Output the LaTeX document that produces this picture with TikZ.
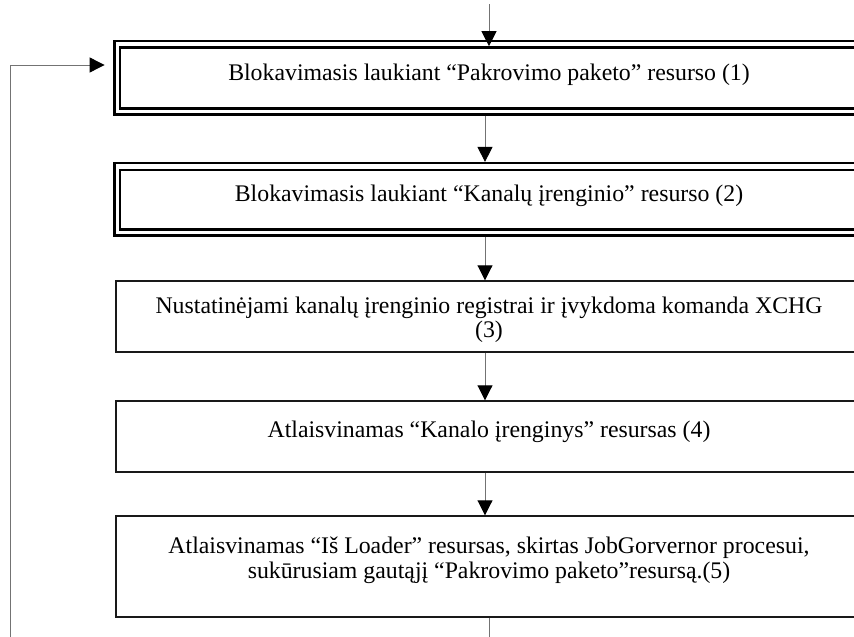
\documentclass[tikz,border=0pt]{standalone}
\usepackage{fontspec}
\setmainfont{Liberation Serif}
\usetikzlibrary{arrows.meta}
\begin{document}
\begin{tikzpicture}[x=1pt,y=-1pt,
  box/.style={draw=black!90, line width=1.4pt, inner sep=0pt, minimum width=746pt},
  outerframe/.style={draw=black, line width=2.2pt, inner sep=0pt, minimum width=749pt},
  innerframe/.style={draw=black, line width=2.6pt, inner sep=0pt, minimum width=738pt},
  txt/.style={anchor=base, inner sep=0pt, font=\fontsize{23.8}{27}\selectfont},
  conn/.style={draw=black!55, line width=0.9pt, -{Triangle[length=15pt,width=15pt,color=black]}},
  plain/.style={draw=black!55, line width=0.9pt}]
\useasboundingbox (0,0) rectangle (854,637);
\clip (0,0) rectangle (854,637);

% blocking steps, drawn with a double frame
\node[outerframe, minimum height=73.5pt] (b1o) at (489,77.75) {};
\node[innerframe, minimum height=61pt] (b1i) at (489,78) {};
\node[outerframe, minimum height=72.5pt] (b2o) at (489,199.25) {};
\node[innerframe, minimum height=59.5pt] (b2i) at (489,199.75) {};

% ordinary steps
\node[box, minimum height=71pt] (b3) at (489,316.5) {};
\node[box, minimum height=71pt] (b4) at (489,436.5) {};
\node[box, minimum height=101pt] (b5) at (489,566.5) {};

% step texts
\node[txt] (t1) at (489,80) {Blokavimasis laukiant “Pakrovimo paketo” resurso (1)};
\node[txt] (t2) at (489,201) {Blokavimasis laukiant “Kanalų įrenginio” resurso (2)};
\node[txt] (t3a) at (489,313) {Nustatinėjami kanalų įrenginio registrai ir įvykdoma komanda XCHG};
\node[txt] (t3b) at (489,337) {(3)};
\node[txt] (t4) at (489,437) {Atlaisvinamas “Kanalo įrenginys” resursas (4)};
\node[txt] (t5a) at (489,553) {Atlaisvinamas “Iš Loader” resursas, skirtas JobGorvernor procesui,};
\node[txt] (t5b) at (489,578) {sukūrusiam gautąjį “Pakrovimo paketo”resursą.(5)};

% flow between the steps
\coordinate (entry) at (489,4);
\draw[conn] (entry) -- (b1i.north);
\draw[conn] ([xshift=-4pt]b1o.south) -- ([xshift=-4pt]b2o.north);
\draw[conn] ([xshift=-4pt]b2o.south) -- ([xshift=-4pt]b3.north);
\draw[conn] ([xshift=-4pt]b3.south) -- ([xshift=-4pt]b4.north);
\draw[conn] ([xshift=-4pt]b4.south) -- ([xshift=-4pt]b5.north);

% loop back to the first step
\coordinate (low) at (489,660);
\coordinate (leftside) at (10,65);
\draw[conn, shorten >=8.8pt] (b5.south) -- (low) -| (leftside) -- ([yshift=12.75pt]b1o.west);
\end{tikzpicture}
\end{document}
